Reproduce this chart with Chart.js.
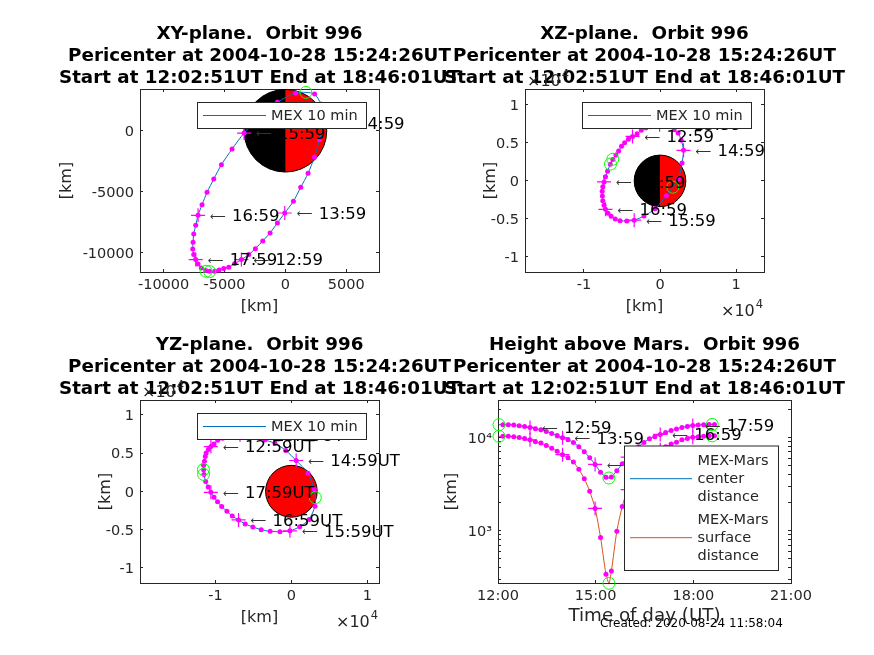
<!DOCTYPE html>
<html>
<head>
<meta charset="utf-8">
<title>Orbit 996</title>
<script src="https://cdn.jsdelivr.net/npm/chart.js@4"></script>
<style>
    html, body { margin: 0; padding: 0; background: #fff; }
    #page { position: relative; width: 874px; height: 655px; overflow: hidden; }
    canvas { position: absolute; left: 0; top: 0; }
    #created { position: absolute; left: 600px; top: 616px; font: 12px "DejaVu Sans"; color: #000; white-space: nowrap; }
</style>
</head>
<body>
<div id="page">
    <canvas id="xy" width="874" height="655"></canvas>
    <canvas id="xz" width="874" height="655"></canvas>
    <canvas id="yz" width="874" height="655"></canvas>
    <canvas id="height" width="874" height="655"></canvas>
    <div id="created">Created: 2020-08-24 11:58:04</div>
</div>
<script>
// 10 minute samples, 12:09 to 18:39 (hours)
const sampleTimes = [
    12.15, 12.317, 12.483, 12.65, 12.817, 12.983, 13.15, 13.317, 13.483, 13.65,
    13.817, 13.983, 14.15, 14.317, 14.483, 14.65, 14.817, 14.983, 15.15, 15.317,
    15.483, 15.65, 15.817, 15.983, 16.15, 16.317, 16.483, 16.65, 16.817, 16.983,
    17.15, 17.317, 17.483, 17.65, 17.817, 17.983, 18.15, 18.317, 18.483, 18.65
];
const orbitX = [
    -5802, -5447, -5063, -4653, -4160, -3613, -3011, -2463, -1861, -1259,
    -657, -55, 657, 1259, 1861, 2381, 2792, 3093, 2900, 2400,
    848, -657, -2107, -3394, -4379, -5255, -5884, -6432, -6843, -7171,
    -7362, -7527, -7581, -7609, -7527, -7362, -7171, -6897, -6541, -6213
];
const orbitY = [
    -11550, -11441, -11331, -11222, -10921, -10592, -10182, -9689, -9059, -8403,
    -7581, -6760, -5802, -4653, -3503, -2162, -739, 630, 2190, 3011,
    3110, 2340, 1100, -192, -1505, -2792, -3969, -5063, -6076, -6952,
    -7773, -8485, -9169, -9716, -10182, -10592, -10948, -11276, -11495, -11550
];
const orbitZ = [
    3400, 3950, 4550, 5030, 5470, 5850, 6200, 6680, 6950, 7130,
    7300, 7400, 7420, 7200, 6720, 6290, 5350, 4030, 2368, 263,
    -1950, -3680, -4630, -5175, -5285, -5241, -5022, -4671, -4276, -3750,
    -3224, -2610, -1996, -1382, -768, -132, 548, 1272, 2193, 2829
];
const centerDistance = [
    13680, 13680, 13570, 13350, 13130, 12810, 12390, 12090, 11600, 11040,
    10500, 9920, 9440, 8835, 7935, 7010, 6040, 5125, 4240, 3735,
    3764, 4380, 5210, 6150, 7070, 7935, 8835, 9675, 10170, 10770,
    11320, 11890, 12290, 12810, 13130, 13460, 13570, 13680, 13790, 13790
];
const surfaceDistance = [
    10280, 10280, 10170, 9950, 9730, 9410, 8990, 8690, 8200, 7640,
    7100, 6520, 6040, 5440, 4540, 3610, 2640, 1730, 845, 340,
    368, 985, 1815, 2755, 3675, 4540, 5440, 6280, 6775, 7375,
    7925, 8495, 8895, 9415, 9735, 10065, 10175, 10285, 10395, 10395
];

// start, pericenter and end of the pass
const keyTimes = [12.03, 15.407, 18.58];
const keyX = [-6213, 1680, -6514];
const keyY = [-11577, 3148, -11550];
const keyZ = [2850, -833, 2215];
const keyCenter = [13680, 3668, 13790];
const keySurface = [10280, 272, 10395];

// hourly crosses and their labels
const hourIndex = [5, 11, 17, 23, 29, 35];
const hourLabels = ['12:59', '13:59', '14:59', '15:59', '16:59', '17:59'];
const yzOrder = ['12:59UT', '13:59UT', '14:59UT', '15:59UT', '16:59UT', '17:59UT'];

const marsRadius = 3396;
const xyTicksX = [-10000, -5000, 0, 5000];
const xyTicksY = [-10000, -5000, 0];
const scaledTicksX = [-10000, 0, 10000];
const scaledTicksY = [-10000, -5000, 0, 5000, 10000];
const timeTicks = [12, 15, 18, 21];
const logTicks = [
    300, 400, 500, 600, 700, 800, 900, 1000,
    2000, 3000, 4000, 5000, 6000, 7000, 8000, 9000, 10000, 20000
];

const FONT = '"DejaVu Sans"';
const INK = '#262626';
const BLUE = '#0072BD';
const ORANGE = '#D95319';
const MAGENTA = '#FF00FF';
const GREEN = '#00FF00';

/**
 * Let the title run wider than the plot box, as the panels share long titles
 */
const wideTitlePlugin = {
    id: 'wideTitle',
    afterLayout(chart) {
        const block = chart.titleBlock;
        const middle = (block.left + block.right) / 2;
        block.left = middle - 300;
        block.right = middle + 300;
    }
};

/**
 * Draw the Mars disc through the chart scales
 */
const marsPlugin = {
    id: 'mars',
    beforeDatasetsDraw(chart, args, opts) {
        if (!opts.mode) return;
        const { ctx, scales } = chart;
        const cx = scales.x.getPixelForValue(0);
        const cy = scales.y.getPixelForValue(0);
        const rx = Math.abs(scales.x.getPixelForValue(marsRadius) - cx);
        const ry = Math.abs(scales.y.getPixelForValue(marsRadius) - cy);
        ctx.save();
        ctx.fillStyle = '#FF0000';
        ctx.beginPath();
        ctx.ellipse(cx, cy, rx, ry, 0, 0, Math.PI * 2);
        ctx.fill();
        if (opts.mode === 'split') {
            ctx.fillStyle = '#000';
            ctx.beginPath();
            ctx.ellipse(cx, cy, rx, ry, 0, Math.PI / 2, Math.PI * 1.5);
            ctx.fill();
        }
        ctx.strokeStyle = '#000';
        ctx.lineWidth = 1;
        ctx.beginPath();
        ctx.ellipse(cx, cy, rx, ry, 0, 0, Math.PI * 2);
        ctx.stroke();
        ctx.restore();
    }
};

/**
 * Write the arrow labels next to the hourly crosses, and the axis exponents
 */
const notesPlugin = {
    id: 'notes',
    afterDatasetsDraw(chart, args, opts) {
        const { ctx, scales, chartArea } = chart;
        ctx.save();
        ctx.fillStyle = '#000';
        ctx.textBaseline = 'middle';
        (opts.labels || []).forEach(label => {
            const x = scales.x.getPixelForValue(label.x);
            const y = scales.y.getPixelForValue(label.y) + 1.5;
            ctx.fillStyle = '#333';
            ctx.font = '11px ' + FONT;
            ctx.fillText('\u27F5', x + 12, y);
            ctx.fillStyle = '#000';
            ctx.font = '16.5px ' + FONT;
            ctx.fillText(label.text, x + 34, y);
        });
        ctx.fillStyle = INK;
        const exponent = (x, y) => {
            ctx.font = '16px ' + FONT;
            ctx.fillText('\u00d710', x, y);
            const w = ctx.measureText('\u00d710').width;
            ctx.font = '11.5px ' + FONT;
            ctx.fillText('4', x + w + 1, y - 7);
        };
        if (opts.exponents) {
            exponent(chartArea.left + 2, chartArea.top - 7);
            exponent(chartArea.right - 43, chartArea.bottom + 40);
        }
        ctx.restore();
    }
};

/**
 * Draw the boxed legend on top of everything else in the panel
 */
const boxLegendPlugin = {
    id: 'boxLegend',
    afterDraw(chart, args, opts) {
        const { ctx } = chart;
        const b = opts.box;
        ctx.save();
        ctx.fillStyle = '#fff';
        ctx.strokeStyle = INK;
        ctx.lineWidth = 1;
        ctx.fillRect(b.x, b.y, b.w, b.h);
        ctx.strokeRect(b.x, b.y, b.w, b.h);
        ctx.textBaseline = 'middle';
        ctx.font = '14.5px ' + FONT;
        opts.entries.forEach(entry => {
            ctx.strokeStyle = entry.color;
            ctx.beginPath();
            ctx.moveTo(b.x + entry.x0, entry.y);
            ctx.lineTo(b.x + entry.x1, entry.y);
            ctx.stroke();
            ctx.fillStyle = INK;
            entry.lines.forEach((line, i) => {
                const offset = (i - (entry.lines.length - 1) / 2) * 18;
                ctx.fillText(line, b.x + entry.tx, entry.y + offset + 1);
            });
        });
        ctx.restore();
    }
};

/**
 * Build one axis of a panel, with inward ticks
 */
function makeAxis(config) {
    const isX = config.axis === 'x';
    return {
        type: config.type || 'linear',
        position: config.position,
        axis: config.axis,
        min: config.min,
        max: config.max,
        border: { display: true, color: INK, width: 1 },
        grid: { drawOnChartArea: false, drawTicks: true, tickLength: -3, tickColor: INK, tickWidth: 1 },
        ticks: {
            display: !!config.label,
            autoSkip: false,
            maxRotation: 0,
            padding: isX ? 8 : 9,
            labelOffset: isX ? 0 : 1.5,
            color: INK,
            font: { family: FONT, size: 14.5 },
            callback: config.label || (() => '')
        },
        title: {
            display: !!config.title,
            text: config.title,
            color: INK,
            padding: 0,
            font: { family: FONT, size: config.titleSize || 16 }
        },
        afterBuildTicks: scale => {
            scale.ticks = config.ticks.map(value => ({ value }));
        },
        afterFit: scale => {
            if (isX) scale.height = config.size || 0;
            else scale.width = config.size || 0;
        }
    };
}

/**
 * Create one panel on its own full page canvas
 */
function makePanel(canvasId, panel) {
    const plot = panel.plot;
    const xSize = panel.xSize || 44;
    return new Chart(document.getElementById(canvasId), {
        type: 'scatter',
        data: { datasets: panel.datasets },
        options: {
            responsive: false,
            animation: false,
            events: [],
            layout: {
                padding: {
                    left: plot.left - panel.ySize,
                    right: 874 - plot.right,
                    top: plot.top - 66,
                    bottom: 655 - plot.bottom - xSize
                }
            },
            plugins: {
                legend: { display: false },
                tooltip: { enabled: false },
                title: {
                    display: true,
                    text: panel.title,
                    fullSize: false,
                    color: '#000',
                    padding: 0,
                    font: { family: FONT, size: 18.3, weight: 'bold', lineHeight: '22px' }
                },
                mars: { mode: panel.mars },
                notes: { labels: panel.labels, exponents: panel.exponents },
                boxLegend: panel.legend
            },
            scales: {
                x: makeAxis({ axis: 'x', position: 'bottom', min: panel.xRange[0], max: panel.xRange[1], ticks: panel.xTicks, label: panel.xLabel, title: panel.xTitle, titleSize: panel.xTitleSize, size: xSize }),
                y: makeAxis({ axis: 'y', position: 'left', type: panel.yType, min: panel.yRange[0], max: panel.yRange[1], ticks: panel.yTicks, label: panel.yLabel, title: '[km]', size: panel.ySize }),
                x2: makeAxis({ axis: 'x', position: 'top', min: panel.xRange[0], max: panel.xRange[1], ticks: panel.xTicks }),
                y2: makeAxis({ axis: 'y', position: 'right', type: panel.yType, min: panel.yRange[0], max: panel.yRange[1], ticks: panel.yTicks })
            }
        },
        plugins: [wideTitlePlugin, marsPlugin, notesPlugin, boxLegendPlugin]
    });
}

// joins arrays of x and y into chart points
const points = (xs, ys) => xs.map((x, i) => ({ x, y: ys[i] }));
const hourly = list => hourIndex.map(i => list[i]);
// full track: start, samples up to pericenter, pericenter, remaining samples, end
const track = (list, key) => [key[0], ...list.slice(0, 20), key[1], ...list.slice(20), key[2]];

/**
 * Line, dots, crosses and green circles for one track
 */
function trackDatasets(xs, ys, keyXs, keyYs, color, label) {
    return [
        { label, data: points(track(xs, keyXs), track(ys, keyYs)), showLine: true, tension: 0.25, borderColor: color, borderWidth: 1, pointRadius: 0, order: 4 },
        { label: label + ' samples', data: points(xs, ys), pointRadius: 2.5, pointBackgroundColor: MAGENTA, pointBorderWidth: 0, order: 3, clip: false },
        { label: label + ' hours', data: points(hourly(xs), hourly(ys)), pointStyle: 'cross', pointRadius: 7, pointBorderColor: MAGENTA, pointBorderWidth: 1.2, order: 2, clip: false },
        { label: label + ' key points', data: points(keyXs, keyYs), pointRadius: 6, pointBackgroundColor: 'transparent', pointBorderColor: GREEN, pointBorderWidth: 1, order: 1, clip: false }
    ];
}

const hourNotes = (xs, ys, texts) => hourIndex.map((idx, i) => ({ x: xs[idx], y: ys[idx], text: texts[i] }));
const subtitle = ['Pericenter at 2004-10-28 15:24:26UT', 'Start at 12:02:51UT End at 18:46:01UT'];
const plainLabel = value => String(value);
const scaledLabel = value => String(value / 10000);
const timeLabel = value => value + ':00';
const logLabel = value => (value === 1000 ? '10\u00b3' : value === 10000 ? '10\u2074' : '');

const singleLegend = (x, y) => ({
    box: { x, y, w: 169, h: 26 },
    entries: [{ lines: ['MEX 10 min'], color: BLUE, x0: 5.5, x1: 68.5, tx: 73.5, y: y + 13 }]
});

makePanel('xy', {
    title: ['XY-plane.  Orbit 996', ...subtitle],
    plot: { left: 140, right: 379, top: 89, bottom: 272 },
    ySize: 83,
    xRange: [-11938, 7685], yRange: [-11610, 3430],
    xTicks: xyTicksX, yTicks: xyTicksY,
    xLabel: plainLabel, yLabel: plainLabel, xTitle: '[km]',
    mars: 'split',
    datasets: trackDatasets(orbitX, orbitY, keyX, keyY, BLUE, 'MEX 10 min'),
    labels: hourNotes(orbitX, orbitY, hourLabels),
    legend: singleLegend(197.5, 102.5)
});

makePanel('xz', {
    title: ['XZ-plane.  Orbit 996', ...subtitle],
    plot: { left: 525, right: 764, top: 89, bottom: 272 },
    ySize: 44,
    xRange: [-17760, 13680], yRange: [-12000, 12100],
    xTicks: scaledTicksX, yTicks: scaledTicksY,
    xLabel: scaledLabel, yLabel: scaledLabel, xTitle: '[km]',
    mars: 'split',
    exponents: true,
    datasets: trackDatasets(orbitX, orbitZ, keyX, keyZ, BLUE, 'MEX 10 min'),
    labels: hourNotes(orbitX, orbitZ, hourLabels),
    legend: singleLegend(582.5, 102.5)
});

makePanel('yz', {
    title: ['YZ-plane.  Orbit 996', ...subtitle],
    plot: { left: 140, right: 379, top: 400, bottom: 583 },
    ySize: 44,
    xRange: [-19920, 11530], yRange: [-12000, 11950],
    xTicks: scaledTicksX, yTicks: scaledTicksY,
    xLabel: scaledLabel, yLabel: scaledLabel, xTitle: '[km]',
    mars: 'full',
    exponents: true,
    datasets: trackDatasets(orbitY, orbitZ, keyY, keyZ, BLUE, 'MEX 10 min'),
    labels: hourNotes(orbitY, orbitZ, yzOrder),
    legend: singleLegend(197.5, 413.5)
});

makePanel('height', {
    title: ['Height above Mars.  Orbit 996', ...subtitle],
    plot: { left: 498, right: 791, top: 400, bottom: 583 },
    ySize: 56,
    xSize: 44,
    xRange: [12, 21], yRange: [274, 25200], yType: 'logarithmic',
    xTicks: timeTicks, yTicks: logTicks,
    xLabel: timeLabel, yLabel: logLabel, xTitle: 'Time of day (UT)', xTitleSize: 18.3,
    datasets: [
        ...trackDatasets(sampleTimes, centerDistance, keyTimes, keyCenter, BLUE, 'MEX-Mars center distance'),
        ...trackDatasets(sampleTimes, surfaceDistance, keyTimes, keySurface, ORANGE, 'MEX-Mars surface distance')
    ],
    labels: hourNotes(sampleTimes, centerDistance, hourLabels),
    legend: {
        box: { x: 624.5, y: 446, w: 154, h: 124.5 },
        entries: [
            { lines: ['MEX-Mars', 'center', 'distance'], color: BLUE, x0: 5.5, x1: 67.5, tx: 73, y: 478.7 },
            { lines: ['MEX-Mars', 'surface', 'distance'], color: ORANGE, x0: 5.5, x1: 67.5, tx: 73, y: 537.7 }
        ]
    }
});
</script>
</body>
</html>
